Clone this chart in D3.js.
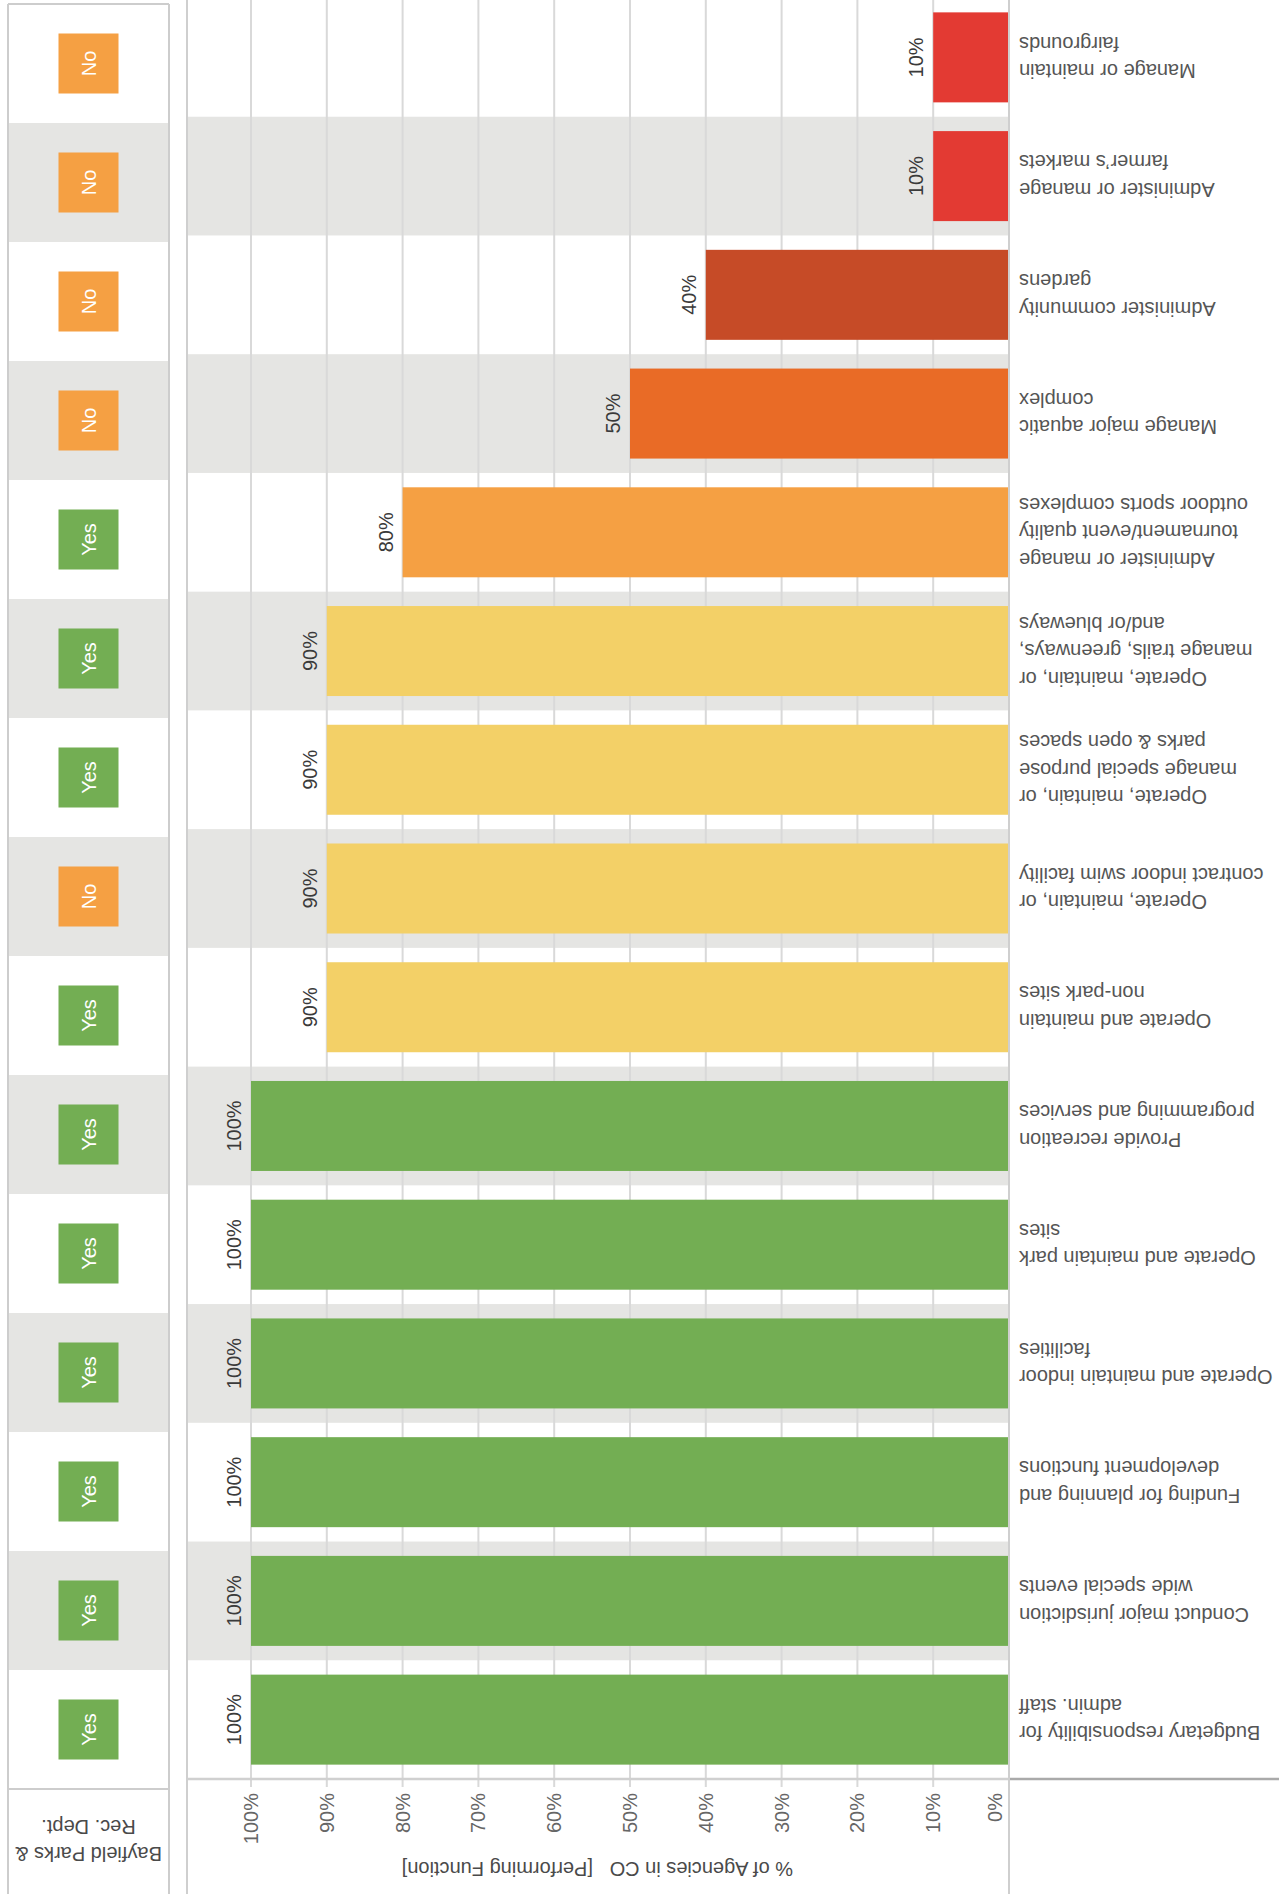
<!DOCTYPE html>
<html><head><meta charset="utf-8">
<script src="https://cdn.jsdelivr.net/npm/d3@7"></script>
<style>html,body{margin:0;padding:0;background:#fff}svg{display:block}</style>
</head><body><div id="chart"></div>
<script>
const categories = [
  "Budgetary responsibility for\nadmin. staff",
  "Conduct major jurisdiction\nwide special events",
  "Funding for planning and\ndevelopment functions",
  "Operate and maintain indoor\nfacilities",
  "Operate and maintain park\nsites",
  "Provide recreation\nprogramming and services",
  "Operate and maintain\nnon-park sites",
  "Operate, maintain, or\ncontract indoor swim facility",
  "Operate, maintain, or\nmanage special purpose\nparks & open spaces",
  "Operate, maintain, or\nmanage trails, greenways,\nand/or blueways",
  "Administer or manage\ntournament/event quality\noutdoor sports complexes",
  "Manage major aquatic\ncomplex",
  "Administer community\ngardens",
  "Administer or manage\nfarmer\u2019s markets",
  "Manage or maintain\nfairgrounds"
];
const values = [100, 100, 100, 100, 100, 100, 90, 90, 90, 90, 80, 50, 40, 10, 10];
const bayfield = ["Yes","Yes","Yes","Yes","Yes","Yes","Yes","No","Yes","Yes","Yes","No","No","No","No"];
const tickValues = [0, 10, 20, 30, 40, 50, 60, 70, 80, 90, 100];
const axisTitle = "% of Agencies in CO   [Performing Function]";
const headerLines = ["Bayfield Parks &", "Rec. Dept."];

const valueColorDomain = [100, 90, 80, 50, 40, 10];
const valueColorRange = ["#73ae53", "#f3d067", "#f5a043", "#e96b26", "#c64b27", "#e33a33"];
const badgeColors = {Yes: "#73ae53", No: "#f5a043"};

const W = 1279, H = 1894;
const FONT = "'Liberation Sans', Arial, Helvetica, sans-serif";
const svg = d3.select("#chart").append("svg")
  .attr("width", W).attr("height", H)
  .style("font-family", FONT);
// The whole chart is drawn upright, then turned upside down
const g = svg.append("g").attr("transform", `rotate(180 ${W/2} ${H/2})`);

const data = categories.map((c, i) => ({cat: c, lines: c.split("\n"), v: values[i], b: bayfield[i], i}));

const x = d3.scaleLinear().domain([0, 100]).range([270, 1028]);
const y = d3.scaleBand().domain(categories).range([115, 1896]).paddingInner(0.242).paddingOuter(0.121);
const yL = d3.scaleBand().domain(categories).range([105, 1890]);
const color = d3.scaleOrdinal().domain(valueColorDomain).range(valueColorRange);

const plotRight = 1092, axisY = 115;
const panelL = 1110, panelR = 1271, panelTop = 105, panelBottom = 1890;

// grey row bands (main)
g.append("g").selectAll("rect").data(data.filter(d => d.i % 2 === 1)).join("rect")
  .attr("x", x(0)).attr("width", plotRight - x(0))
  .attr("y", d => y(d.cat) - y.step() * y.paddingInner() / 2)
  .attr("height", y.step())
  .attr("fill", "#e5e5e3");

// gridlines
g.append("g").selectAll("line").data(tickValues.filter(t => t > 0)).join("line")
  .attr("x1", d => x(d)).attr("x2", d => x(d))
  .attr("y1", axisY - 8).attr("y2", H)
  .attr("stroke", "#d9d9d9").attr("stroke-width", 2);

// bars
g.append("g").selectAll("rect").data(data).join("rect")
  .attr("x", x(0)).attr("width", d => x(d.v) - x(0))
  .attr("y", d => y(d.cat)).attr("height", y.bandwidth())
  .attr("fill", d => color(d.v));

// value labels
g.append("g").selectAll("text").data(data).join("text")
  .attr("transform", d => `translate(${x(d.v) + 17},${y(d.cat) + y.bandwidth()/2}) rotate(90)`)
  .attr("text-anchor", "middle").attr("dy", "0.35em")
  .attr("font-size", 20).attr("fill", "#3a3a3a")
  .text(d => d.v + "%");

// axis lines
g.append("line").attr("x1", x(0)).attr("x2", plotRight).attr("y1", axisY).attr("y2", axisY)
  .attr("stroke", "#d0d0d0").attr("stroke-width", 2.5);
g.append("line").attr("x1", 0).attr("x2", x(0)).attr("y1", axisY).attr("y2", axisY)
  .attr("stroke", "#aaa").attr("stroke-width", 2.5);
g.append("line").attr("x1", x(0)).attr("x2", x(0)).attr("y1", 0).attr("y2", H)
  .attr("stroke", "#cfcfcf").attr("stroke-width", 2);
g.append("line").attr("x1", plotRight).attr("x2", plotRight).attr("y1", 0).attr("y2", H)
  .attr("stroke", "#cfcfcf").attr("stroke-width", 2);

// tick labels
g.append("g").selectAll("text").data(tickValues).join("text")
  .attr("transform", d => `translate(${x(d) + (d === 0 ? 14 : 0)},${axisY - 14}) rotate(90)`)
  .attr("text-anchor", "end").attr("dy", "0.35em")
  .attr("font-size", 20).attr("fill", "#666")
  .text(d => d + "%");

// axis title
g.append("text").attr("x", 486).attr("y", 32)
  .attr("xml:space", "preserve").style("white-space", "pre")
  .attr("font-size", 20).attr("fill", "#4a4a4a")
  .text(axisTitle);

// category labels
const lineH = 27.5;
const lab = g.append("g").selectAll("text").data(data).join("text")
  .attr("text-anchor", "end").attr("font-size", 20).attr("fill", "#555");
lab.selectAll("tspan").data(d => d.lines.map((t, k) => ({t, k, n: d.lines.length, cy: y(d.cat) + y.bandwidth()/2})))
  .join("tspan")
  .attr("x", 260)
  .attr("y", d => d.cy + (d.k - (d.n - 1) / 2) * lineH)
  .attr("dy", "0.35em")
  .text(d => d.t);

// left (Bayfield) panel
g.append("g").selectAll("rect").data(data.filter(d => d.i % 2 === 1)).join("rect")
  .attr("x", panelL).attr("width", panelR - panelL)
  .attr("y", d => yL(d.cat)).attr("height", yL.step())
  .attr("fill", "#e5e5e3");
const badge = g.append("g").selectAll("g").data(data).join("g")
  .attr("transform", d => `translate(${(panelL + panelR) / 2},${yL(d.cat) + yL.step() / 2})`);
badge.append("rect").attr("x", -30).attr("y", -30).attr("width", 60).attr("height", 60)
  .attr("fill", d => badgeColors[d.b]);
badge.append("text").attr("transform", "rotate(90)")
  .attr("text-anchor", "middle").attr("dy", "0.35em")
  .attr("font-size", 20).attr("fill", "#fff")
  .text(d => d.b);

const borderC = "#cdcdcd";
[[panelL, 0, panelL, panelBottom], [panelR, 0, panelR, panelBottom],
 [panelL, panelBottom, panelR, panelBottom], [panelL, panelTop, panelR, panelTop]].forEach(p => {
  g.append("line").attr("x1", p[0]).attr("y1", p[1]).attr("x2", p[2]).attr("y2", p[3])
    .attr("stroke", borderC).attr("stroke-width", 2);
});

g.append("text").attr("text-anchor", "middle").attr("font-size", 20).attr("fill", "#4a4a4a")
  .selectAll("tspan").data(headerLines).join("tspan")
  .attr("x", (panelL + panelR) / 2)
  .attr("y", (d, k) => 40 + k * 27)
  .attr("dy", "0.35em")
  .text(d => d);
</script>
</body></html>
